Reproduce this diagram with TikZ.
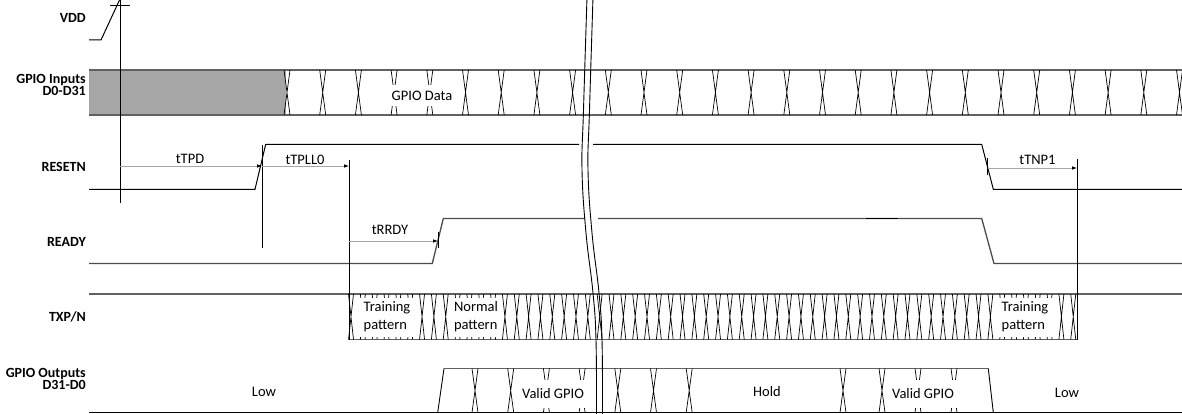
\documentclass[tikz,border=0pt]{standalone}
\usepackage{fontspec}
\setmainfont{Carlito}
\usetikzlibrary{arrows.meta}
\begin{document}
\begin{tikzpicture}[x=1pt,y=-1pt,
  sig/.style={line width=1pt, black},
  rdy/.style={line width=1.3pt, black!70},
  band/.style={line width=1.3pt, black!62},
  xl/.style={line width=0.7pt, black},
  vline/.style={line width=1pt, black},
  brk/.style={line width=0.9pt, black},
  tarrow/.style={draw=black!35, line width=0.8pt, -{Latex[length=5pt,width=3.6pt,color=black]}},
  lbl/.style={font=\fontsize{14}{12}\selectfont\bfseries, align=right, anchor=east, inner sep=0pt},
  txt/.style={font=\fontsize{14.5}{18}\selectfont, inner sep=0pt},
  wbox/.style={fill=white, inner sep=0pt, font=\fontsize{14.5}{18}\selectfont, align=center},
  pbox/.style={fill=white, inner sep=0pt, font=\fontsize{14.5}{18}\selectfont, align=left, minimum height=39pt},
]
\useasboundingbox (0,0) rectangle (1182,414);
\clip (0,0) rectangle (1182,414);

% ---------- labels ----------
\node[lbl] (lvdd) at (86,18) {VDD};
\node[lbl] (lgin) at (86,85) {GPIO Inputs\\D0-D31};
\node[lbl] (lrst) at (86,167) {RESETN};
\node[lbl] (lrdy) at (86,242) {READY};
\node[lbl] (ltxp) at (86,317) {TXP/N};
\node[lbl] (lgout) at (86,379) {GPIO Outputs\\D31-D0};

% ---------- VDD ----------
\draw[sig] (89,40) -- (101,40) -- (120,-1);
\draw[sig] (110,5.7) -- (130,5.7);

% ---------- GPIO inputs ----------
\fill[black!35] (89,70) rectangle (286,115);
\draw[band] (89,70) -- (1182,70);
\draw[band] (89,115) -- (1182,115);
\foreach \k in {0,...,25}{
  \pgfmathsetmacro\cx{287+35.7*\k}
  \draw[xl] ({\cx-3},70) -- ({\cx+3},115) ({\cx+3},70) -- ({\cx-3},115);
}
\node[wbox, minimum width=66pt, minimum height=21pt] (gdata) at (422,95.5) {GPIO Data};

% ---------- RESETN ----------
\draw[sig] (89,189.3) -- (255,189.3) -- (265.7,144.3) -- (579,144.3);
\draw[sig] (593,144.3) -- (981.7,144.3) -- (993.3,189.3) -- (1182,189.3);

% ---------- READY ----------
\draw[rdy] (89,263.5) -- (432.3,263.5) -- (443.3,218.5) -- (585,218.5);
\draw[rdy] (598,218.5) -- (981.7,218.5) -- (994,263.5) -- (1182,263.5);
\draw[sig, line width=1.5pt] (866,218.5) -- (898,218.5);

% ---------- TXP/N ----------
\draw[band] (89,294) -- (1182,294);
\draw[band] (349,339.5) -- (1077,339.5);
\foreach \k in {0,...,61}{
  \pgfmathsetmacro\cx{351+11.84*\k}
  \draw[xl] ({\cx-2.5},294) -- ({\cx+2.5},339.5) ({\cx+2.5},294) -- ({\cx-2.5},339.5);
}
\node[pbox, minimum width=60pt] (tr1) at (387,317) {Training\\pattern};
\node[pbox, minimum width=50pt] (nrm) at (476,317) {Normal\\pattern};
\node[pbox, minimum width=56pt] (tr2) at (1025,317) {Training\\pattern};

% ---------- GPIO outputs ----------
\draw[sig, line width=1.3pt] (89,412.6) -- (1182,412.6);
\draw[band] (444,368.5) -- (988.3,368.5);
\draw[xl, line width=0.9pt] (437.7,412.6) -- (444,368.5);
\draw[xl, line width=0.9pt] (988.3,368.5) -- (993.3,412.6);
\foreach \cx in {475,510.7,546.4,582.1,617.8,653.5,689.2,843,882,918,954}{
  \draw[xl] ({\cx-3},368.5) -- ({\cx+3},412.6) ({\cx+3},368.5) -- ({\cx-3},412.6);
}
\node[wbox, minimum width=68pt, minimum height=28pt] (vg1) at (553,394) {Valid GPIO};
\node[wbox, minimum width=68pt, minimum height=28pt] (vg2) at (923,394) {Valid GPIO};
\node[txt] (low1) at (264,392) {Low};
\node[txt] (hold) at (767,392) {Hold};
\node[txt] (low2) at (1067,393) {Low};

% ---------- break marks ----------
\draw[brk] plot[smooth, tension=0.7] coordinates {(587,-3) (583.5,110) (582,170) (586,233) (593,293) (596,340) (596.5,417)};
\draw[brk] plot[smooth, tension=0.7] coordinates {(593,-3) (589.5,110) (588,170) (592,233) (599,293) (602,340) (602.5,417)};

% ---------- timing references ----------
\coordinate (a0t) at (120,0);
\coordinate (a0b) at (120,203);
\coordinate (a1t) at (262,145);
\coordinate (a1b) at (262,248);
\coordinate (a2t) at (349,160);
\coordinate (a2b) at (349,340);
\coordinate (a3t) at (1077,159);
\coordinate (a3b) at (1077,340);
\draw[vline] (a0t) -- (a0b);
\draw[vline] (a1t) -- (a1b);
\draw[vline] (a2t) -- (a2b);
\draw[vline] (a3t) -- (a3b);

\coordinate (p0) at (120,166);
\coordinate (p1) at (262,166);
\coordinate (p2) at (349,166);
\coordinate (q0) at (349,241);
\coordinate (q1) at (438,241);
\coordinate (r0) at (987.5,168);
\coordinate (r1) at (1077,168);
\draw[vline, line width=0.8pt] (438,232) -- (438,248);
\draw[vline, line width=0.8pt] (987.5,158) -- (987.5,175);

\draw[tarrow] (p0) -- (p1);
\draw[tarrow] (p1) -- (p2);
\draw[tarrow] (q0) -- (q1);
\draw[tarrow] (r0) -- (r1);

\node[txt, anchor=south] (ttpd) at (190,164) {tTPD};
\node[txt, anchor=south] (ttpll) at (305,164.5) {tTPLL0};
\node[txt, anchor=south] (trrdy) at (390,234.5) {tRRDY};
\node[txt, anchor=south] (ttnp) at (1037.5,165) {tTNP1};
\end{tikzpicture}
\end{document}
